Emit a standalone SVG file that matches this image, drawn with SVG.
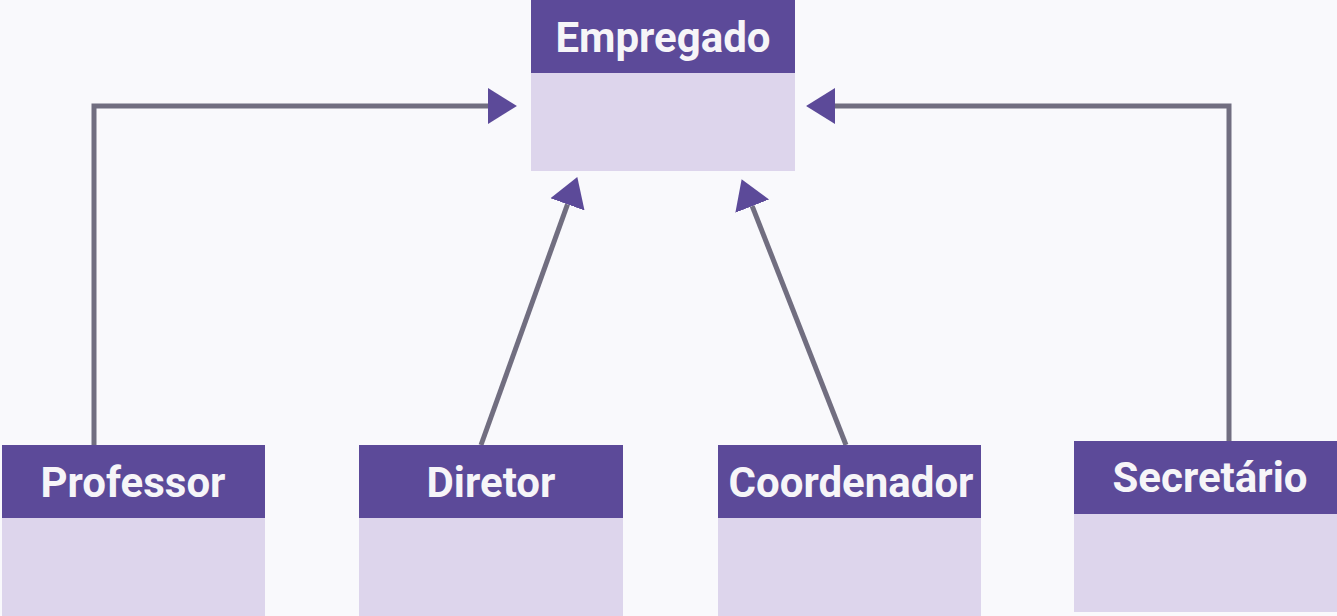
<svg xmlns="http://www.w3.org/2000/svg" width="1337" height="616" viewBox="0 0 1337 616">
<style>
.hd{fill:#5c4a99}
.bd{fill:#ddd5ec}
.lb{font-family:Roboto,"Liberation Sans",sans-serif;font-weight:bold;font-size:42px;fill:#f6f5f8;text-anchor:middle}
.cn{fill:none;stroke:#716e80;stroke-width:5;marker-end:url(#tri)}
</style>
<defs>
<marker id="tri" markerUnits="userSpaceOnUse" markerWidth="30" markerHeight="40" viewBox="0 -18 29 36" refX="0" refY="0" orient="auto">
<path d="M0,-17.5 L28,0 L0,17.5 z" fill="#5c4a99"/>
</marker>
</defs>
<rect width="1337" height="616" fill="#f9f9fc"/>
<g id="connectors">
<path class="cn" d="M94,445 V106 H488"/>
<path class="cn" d="M1229,441 V106 H835"/>
<path class="cn" d="M481,445 L567.5,204.3"/>
<path class="cn" d="M846,445 L752.2,206.1"/>
</g>
<g id="empregado">
<rect class="bd" x="531" y="73" width="264" height="98"/>
<rect class="hd" x="531" y="0" width="264" height="73"/>
<text class="lb" x="663" y="52">Empregado</text>
</g>
<g id="professor">
<rect class="bd" x="2" y="518" width="263" height="98"/>
<rect class="hd" x="2" y="445" width="263" height="73"/>
<text class="lb" x="133" y="497">Professor</text>
</g>
<g id="diretor">
<rect class="bd" x="359" y="518" width="264" height="98"/>
<rect class="hd" x="359" y="445" width="264" height="73"/>
<text class="lb" x="491" y="497">Diretor</text>
</g>
<g id="coordenador">
<rect class="bd" x="718" y="518" width="263" height="98"/>
<rect class="hd" x="718" y="445" width="263" height="73"/>
<text class="lb" x="851" y="497">Coordenador</text>
</g>
<g id="secretario">
<rect class="bd" x="1074" y="514" width="263" height="98"/>
<rect class="hd" x="1074" y="441" width="263" height="73"/>
<text class="lb" x="1210" y="492">Secretário</text>
</g>
</svg>
